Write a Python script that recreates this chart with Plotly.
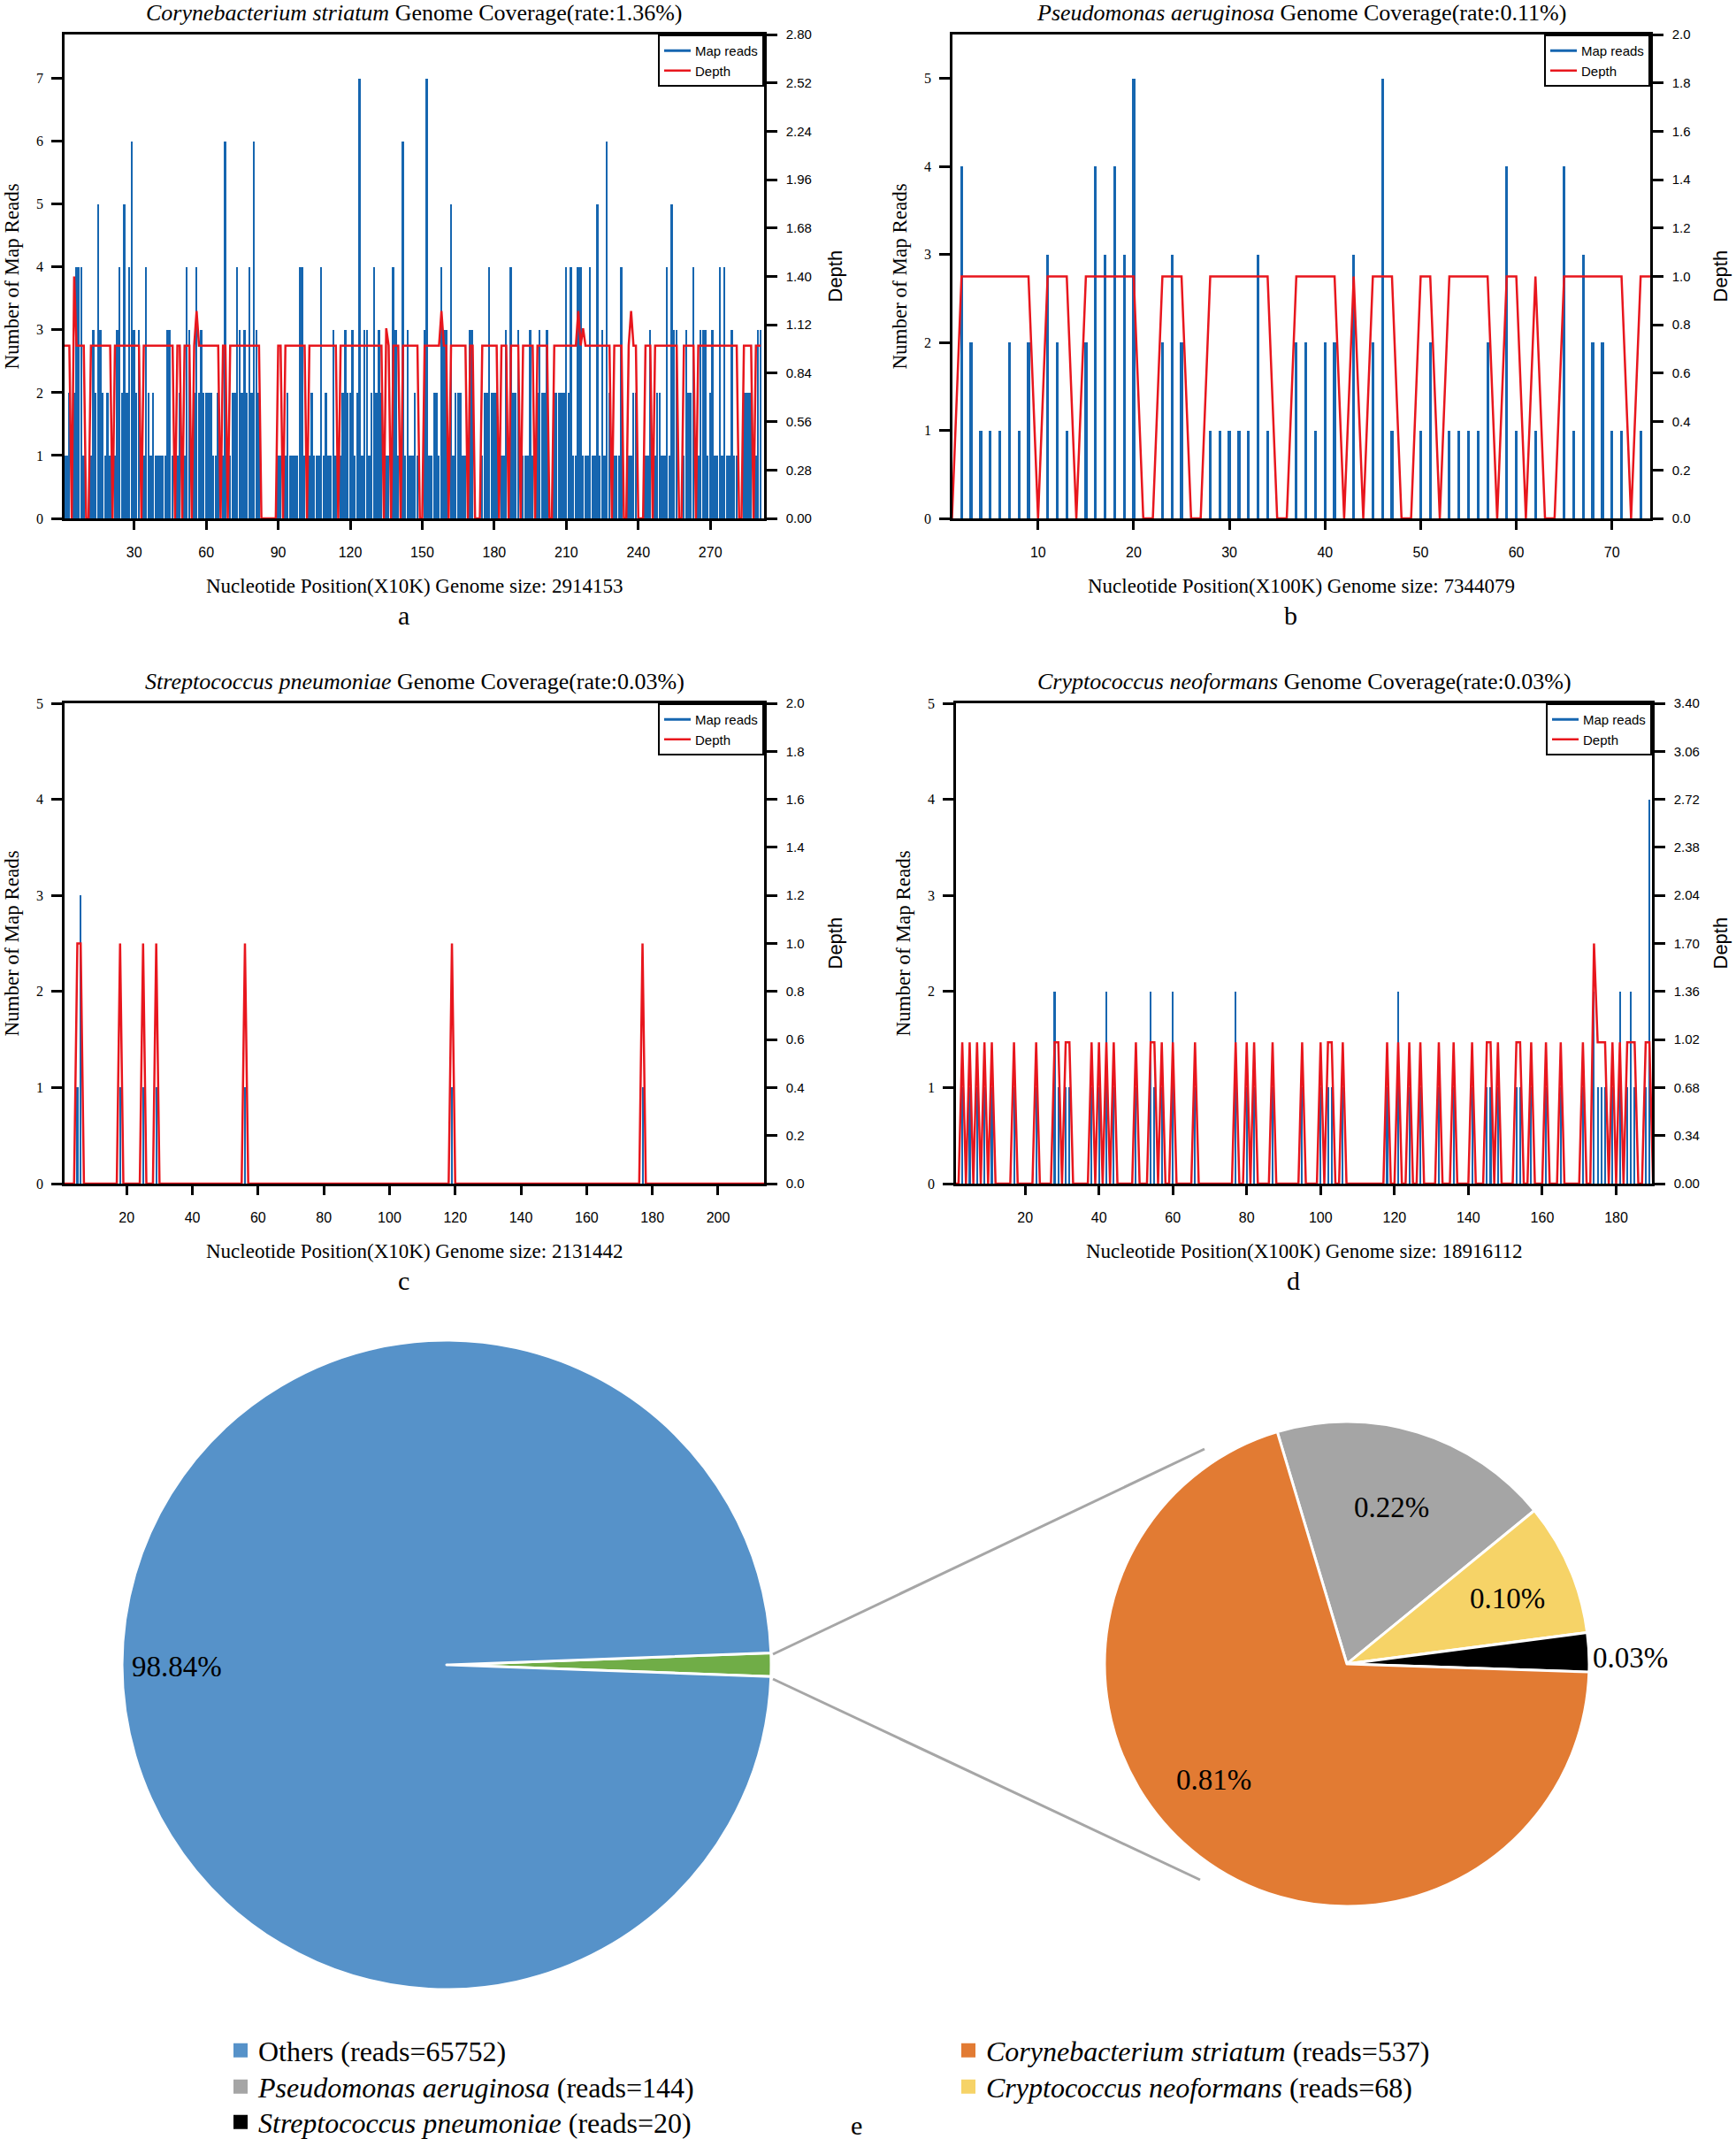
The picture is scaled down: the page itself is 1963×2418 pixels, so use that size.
import plotly.graph_objects as go

W, H = 1963, 2418
SERIF = "Liberation Serif"
SANS = "Liberation Sans"
READS_COLOR = "#1666b0"
DEPTH_COLOR = "#e8161d"

# ---- a: Corynebacterium striatum, map reads / depth per 10K bin (bins 1..291)
a_reads = [
    1, 1, 2, 0, 2, 4, 4, 4, 1, 0,
    0, 1, 3, 2, 5, 3, 2, 1, 2, 1,
    0, 1, 3, 4, 2, 5, 2, 4, 6, 3,
    2, 3, 0, 1, 4, 2, 1, 2, 1, 1,
    1, 1, 1, 3, 3, 1, 0, 1, 2, 0,
    1, 4, 3, 0, 2, 4, 2, 3, 2, 2,
    2, 2, 1, 1, 2, 0, 1, 6, 0, 1,
    2, 2, 4, 3, 2, 3, 2, 4, 2, 6,
    3, 2, 0, 0, 0, 0, 0, 0, 0, 1,
    1, 0, 1, 2, 1, 1, 1, 1, 4, 4,
    1, 0, 1, 2, 1, 1, 1, 4, 1, 2,
    1, 1, 3, 1, 0, 1, 2, 3, 2, 2,
    3, 1, 2, 7, 1, 3, 3, 1, 2, 4,
    2, 3, 2, 0, 1, 1, 0, 4, 3, 1,
    0, 6, 1, 3, 1, 1, 2, 1, 0, 0,
    3, 7, 1, 1, 2, 2, 1, 4, 3, 3,
    0, 5, 1, 2, 2, 2, 1, 1, 0, 3,
    3, 0, 0, 0, 1, 2, 2, 4, 2, 2,
    2, 0, 1, 1, 3, 0, 4, 2, 2, 3,
    0, 1, 1, 1, 3, 1, 0, 2, 3, 2,
    2, 3, 0, 0, 2, 2, 2, 2, 2, 4,
    2, 4, 1, 1, 4, 4, 1, 1, 1, 4,
    1, 1, 5, 1, 3, 1, 6, 2, 0, 1,
    1, 1, 4, 0, 0, 1, 1, 2, 2, 0,
    0, 0, 1, 1, 3, 0, 1, 2, 2, 1,
    1, 4, 1, 5, 3, 3, 0, 0, 1, 3,
    2, 2, 4, 0, 1, 3, 3, 3, 1, 2,
    3, 1, 1, 4, 1, 4, 1, 1, 3, 1,
    1, 0, 0, 2, 2, 2, 2, 0, 1, 3,
    3,
]
a_depth = [
    1, 1, 1, 0, 1.4, 1, 1, 1, 1, 0,
    0, 1, 1, 1, 1, 1, 1, 1, 1, 1,
    0, 1, 1, 1, 1, 1, 1, 1, 1, 1,
    1, 1, 0, 1, 1, 1, 1, 1, 1, 1,
    1, 1, 1, 1, 1, 1, 0, 1, 1, 0,
    1, 1, 1, 0, 1, 1.2, 1, 1, 1, 1,
    1, 1, 1, 1, 1, 0, 1, 1, 0, 1,
    1, 1, 1, 1, 1, 1, 1, 1, 1, 1,
    1, 1, 0, 0, 0, 0, 0, 0, 0, 1,
    1, 0, 1, 1, 1, 1, 1, 1, 1, 1,
    1, 0, 1, 1, 1, 1, 1, 1, 1, 1,
    1, 1, 1, 1, 0, 1, 1, 1, 1, 1,
    1, 1, 1, 1, 1, 1, 1, 1, 1, 1,
    1, 1, 1, 0, 1.1, 1, 0, 1, 1, 1,
    0, 1, 1, 1, 1, 1, 1, 1, 0, 0,
    1, 1, 1, 1, 1, 1, 1, 1.2, 1, 1,
    0, 1, 1, 1, 1, 1, 1, 1, 0, 1,
    1, 0, 0, 0, 1, 1, 1, 1, 1, 1,
    1, 0, 1, 1, 1, 0, 1, 1, 1, 1,
    0, 1, 1, 1, 1, 1, 0, 1, 1, 1,
    1, 1, 0, 0, 1, 1, 1, 1, 1, 1,
    1, 1, 1, 1, 1.2, 1, 1.1, 1, 1, 1,
    1, 1, 1, 1, 1, 1, 1, 1, 0, 1,
    1, 1, 1, 0, 0, 1, 1.2, 1, 1, 0,
    0, 0, 1, 1, 1, 0, 1, 1, 1, 1,
    1, 1, 1, 1, 1, 1, 0, 0, 1, 1,
    1, 1, 1, 0, 1, 1, 1, 1, 1, 1,
    1, 1, 1, 1, 1, 1, 1, 1, 1, 1,
    1, 0, 0, 1, 1, 1, 1, 0, 1, 1,
    1,
]

# ---- b: Pseudomonas aeruginosa, per 100K bin (bins 1..74)
b_reads = [
    0, 4, 2, 1, 1, 1, 2, 1, 2, 0,
    3, 2, 1, 0, 2, 4, 3, 4, 3, 5,
    0, 0, 2, 3, 2, 0, 0, 1, 1, 1,
    1, 1, 3, 1, 0, 0, 2, 2, 1, 2,
    2, 0, 3, 0, 2, 5, 1, 0, 0, 1,
    2, 0, 1, 1, 1, 1, 2, 0, 4, 1,
    0, 1, 0, 0, 4, 1, 3, 2, 2, 1,
    1, 0, 1, 0,
]
b_depth = [
    0, 1, 1, 1, 1, 1, 1, 1, 1, 0,
    1, 1, 1, 0, 1, 1, 1, 1, 1, 1,
    0, 0, 1, 1, 1, 0, 0, 1, 1, 1,
    1, 1, 1, 1, 0, 0, 1, 1, 1, 1,
    1, 0, 1, 0, 1, 1, 1, 0, 0, 1,
    1, 0, 1, 1, 1, 1, 1, 0, 1, 1,
    0, 1, 0, 0, 1, 1, 1, 1, 1, 1,
    1, 0, 1, 1,
]

# ---- c: Streptococcus pneumoniae, per 10K bin (214 bins), covered bins only
c_nbins = 214
c_bins = [5, 6, 18, 25, 29, 56, 119, 177]
c_reads = [1, 3, 1, 1, 1, 1, 1, 1]
c_depth = [1, 1, 1, 1, 1, 1, 1, 1]

# ---- d: Cryptococcus neoformans, per 100K bin (190 bins), covered bins only
d_nbins = 190
d_bins = [3, 5, 7, 9, 11, 17, 23, 28, 29, 31, 32, 38, 40, 42, 44, 50, 54, 55,
          57, 60, 66, 77, 80, 82, 87, 95, 100, 102, 103, 106, 118, 121, 124,
          127, 132, 136, 141, 145, 146, 148, 153, 154, 157, 161, 165, 171,
          174, 175, 176, 177, 179, 181, 183, 184, 185, 188, 189]
d_reads = [1, 1, 1, 1, 1, 1, 1, 2, 1, 1, 1, 1, 1, 2, 1, 1, 2, 1,
           1, 2, 1, 2, 1, 1, 1, 1, 1, 1, 1, 1, 1, 2, 1,
           1, 1, 1, 1, 1, 1, 1, 1, 1, 1, 1, 1, 1,
           2, 1, 1, 1, 1, 2, 1, 2, 1, 1, 4]
d_depth = [1, 1, 1, 1, 1, 1, 1, 1, 1, 1, 1, 1, 1, 1, 1, 1, 1, 1,
           1, 1, 1, 1, 1, 1, 1, 1, 1, 1, 1, 1, 1, 1, 1,
           1, 1, 1, 1, 1, 1, 1, 1, 1, 1, 1, 1, 1,
           1.7, 1, 1, 1, 1, 1, 1, 1, 1, 1, 1]

# tick labels
a_xticks = [30, 60, 90, 120, 150, 180, 210, 240, 270]
b_xticks = [10, 20, 30, 40, 50, 60, 70]
c_xticks = [20, 40, 60, 80, 100, 120, 140, 160, 180, 200]
d_xticks = [20, 40, 60, 80, 100, 120, 140, 160, 180]
a_yticks = [0, 1, 2, 3, 4, 5, 6, 7]
bcd_yticks = [0, 1, 2, 3, 4, 5]
a_dticks = ["0.00", "0.28", "0.56", "0.84", "1.12", "1.40", "1.68", "1.96", "2.24", "2.52", "2.80"]
bc_dticks = ["0.0", "0.2", "0.4", "0.6", "0.8", "1.0", "1.2", "1.4", "1.6", "1.8", "2.0"]
d_dticks = ["0.00", "0.34", "0.68", "1.02", "1.36", "1.70", "2.04", "2.38", "2.72", "3.06", "3.40"]

titles = [
    "<i>Corynebacterium striatum</i> Genome Coverage(rate:1.36%)",
    "<i>Pseudomonas aeruginosa</i> Genome Coverage(rate:0.11%)",
    "<i>Streptococcus pneumoniae</i> Genome Coverage(rate:0.03%)",
    "<i>Cryptococcus neoformans</i> Genome Coverage(rate:0.03%)",
]
xtitles = [
    "Nucleotide Position(X10K) Genome size: 2914153",
    "Nucleotide Position(X100K) Genome size: 7344079",
    "Nucleotide Position(X10K) Genome size: 2131442",
    "Nucleotide Position(X100K) Genome size: 18916112",
]
letters = ["a", "b", "c", "d"]

# ---- e: read counts
others_reads = 65752
pie_species = ["Pseudomonas aeruginosa", "Cryptococcus neoformans",
               "Streptococcus pneumoniae", "Corynebacterium striatum"]
pie_reads = [144, 68, 20, 537]
pie_colors = ["#a5a5a5", "#f6d367", "#000000", "#e27b33"]
OTHERS_COLOR = "#5692c9"
SPECIES_COLOR = "#70ad47"


def px(x):
    return x / W


def py(y):
    return 1 - y / H


def expand(nbins, bins, vals):
    out = [0] * nbins
    for b, v in zip(bins, vals):
        out[b - 1] = v
    return out


panels = [
    dict(reads=a_reads, depth=a_depth, width=0.72, xdom=(73, 864), ydom=(39, 586),
         xrange=(1, 292.4), xticks=a_xticks, yrange=(0, 7.7), yticks=a_yticks,
         drange=(0, 2.8), dticks=a_dticks, depth_x=944),
    dict(reads=b_reads, depth=b_depth, width=0.3, xdom=(1077, 1866), ydom=(39, 586),
         xrange=(1.05, 74), xticks=b_xticks, yrange=(0, 5.5), yticks=bcd_yticks,
         drange=(0, 2.0), dticks=bc_dticks, depth_x=1945),
    dict(reads=expand(c_nbins, c_bins, c_reads), depth=expand(c_nbins, c_bins, c_depth),
         width=0.55, xdom=(73, 864), ydom=(795, 1338), xrange=(1.1, 214),
         xticks=c_xticks, yrange=(0, 5), yticks=bcd_yticks, drange=(0, 2.0),
         dticks=bc_dticks, depth_x=944),
    dict(reads=expand(d_nbins, d_bins, d_reads), depth=expand(d_nbins, d_bins, d_depth),
         width=0.5, xdom=(1081, 1868), ydom=(795, 1338), xrange=(1.3, 189.7),
         xticks=d_xticks, yrange=(0, 5), yticks=bcd_yticks, drange=(0, 3.4),
         dticks=d_dticks, depth_x=1945),
]

axis_style = dict(showline=True, linecolor="black", linewidth=2.5, ticks="outside",
                  tickcolor="black", tickwidth=2.5, showgrid=False, zeroline=False,
                  automargin=False)

traces = []
axes = {}
legends = {}
annotations = []


def text(x, y, s, size, family=SERIF, angle=0):
    annotations.append(dict(x=px(x), y=py(y), xref="paper", yref="paper", text=s,
                            showarrow=False, textangle=angle, xanchor="center",
                            yanchor="middle",
                            font=dict(family=family, size=size, color="black")))


for i, p in enumerate(panels, start=1):
    sfx = "" if i == 1 else str(i)
    xref, yref, yref2 = "x" + sfx, "y" + sfx, f"y{i + 4}"
    leg = "legend" + sfx
    bins = list(range(1, len(p["reads"]) + 1))
    x0, x1 = p["xdom"]
    y0, y1 = p["ydom"]

    traces.append(go.Bar(x=bins, y=p["reads"], width=p["width"], xaxis=xref, yaxis=yref,
                         marker=dict(color=READS_COLOR, line_width=0), showlegend=False))
    traces.append(go.Scatter(x=[None], y=[None], mode="lines", name="Map reads",
                             line=dict(color=READS_COLOR, width=3), xaxis=xref,
                             yaxis=yref, legend=leg))
    traces.append(go.Scatter(x=bins, y=p["depth"], mode="lines", name="Depth",
                             line=dict(color=DEPTH_COLOR, width=2.5), xaxis=xref,
                             yaxis=yref2, legend=leg))

    axes["xaxis" + sfx] = dict(axis_style, domain=[px(x0), px(x1)], anchor=yref,
                               range=list(p["xrange"]), tickvals=p["xticks"], ticklen=10,
                               mirror=True, ticklabelstandoff=12,
                               tickfont=dict(family=SANS, size=16, color="black"))
    axes["yaxis" + sfx] = dict(axis_style, domain=[py(y1), py(y0)], anchor=xref,
                               range=list(p["yrange"]), tickvals=p["yticks"], ticklen=12,
                               ticklabelstandoff=6,
                               tickfont=dict(family=SERIF, size=16, color="black"))
    axes[f"yaxis{i + 4}"] = dict(axis_style, overlaying=yref, side="right", anchor=xref,
                                 range=list(p["drange"]),
                                 tickvals=[float(t) for t in p["dticks"]],
                                 ticktext=p["dticks"], ticklen=12, ticklabelstandoff=7,
                                 tickfont=dict(family=SANS, size=15, color="black"))
    legends[leg] = dict(x=px(x1), y=py(y0), xanchor="right", yanchor="top",
                        bordercolor="black", borderwidth=2, bgcolor="white",
                        font=dict(family=SANS, size=15, color="black"))

    cx, cy = (x0 + x1) / 2, (y0 + y1) / 2
    text(cx, y0 - 25, titles[i - 1], 26)
    text(cx, y1 + 76, xtitles[i - 1], 23)
    text(cx - 12, y1 + 109, letters[i - 1], 30)
    text(x0 - 60, cy, "Number of Map Reads", 23, angle=-90)
    text(p["depth_x"], cy, "Depth", 22, family=SANS, angle=-90)

# ---- pies
species_total = sum(pie_reads)
grand_total = others_reads + species_total

traces.append(go.Pie(values=[species_total, others_reads], labels=["Species", "Others"],
                     sort=False, direction="clockwise", rotation=87.9,
                     marker=dict(colors=[SPECIES_COLOR, OTHERS_COLOR],
                                 line=dict(color="white", width=3)),
                     textinfo="none", showlegend=False,
                     domain=dict(x=[px(505 - 367), px(505 + 367)],
                                 y=[py(1882 + 367), py(1882 - 367)])))
traces.append(go.Pie(values=pie_reads, labels=pie_species, sort=False,
                     direction="clockwise", rotation=-16.7,
                     marker=dict(colors=pie_colors, line=dict(color="white", width=3)),
                     textinfo="none", showlegend=False,
                     domain=dict(x=[px(1523 - 274), px(1523 + 274)],
                                 y=[py(1881 + 274), py(1881 - 274)])))

pct = lambda v: f"{100 * v / grand_total:.2f}%"
text(200, 1884, pct(others_reads), 33)
text(1573, 1704, pct(pie_reads[0]), 33)
text(1704, 1807, pct(pie_reads[1]), 33)
text(1843, 1874, pct(pie_reads[2]), 33)
text(1372, 2012, pct(pie_reads[3]), 33)
text(968, 2402, "e", 30)

shapes = [
    dict(type="line", xref="paper", yref="paper", x0=px(874), y0=py(1870),
         x1=px(1362), y1=py(1638), line=dict(color="#a6a6a6", width=3)),
    dict(type="line", xref="paper", yref="paper", x0=px(874), y0=py(1898),
         x1=px(1357), y1=py(2125), line=dict(color="#a6a6a6", width=3)),
]

# ---- bottom legend: one single-entry legend per row, two columns
legend_rows = [
    ("Others", others_reads, OTHERS_COLOR, False, 252, 2318),
    (pie_species[0], pie_reads[0], pie_colors[0], True, 252, 2359),
    (pie_species[2], pie_reads[2], pie_colors[2], True, 252, 2399),
    (pie_species[3], pie_reads[3], pie_colors[3], True, 1075, 2318),
    (pie_species[1], pie_reads[1], pie_colors[1], True, 1075, 2359),
]
for k, (name, n, color, italic, lx, ly) in enumerate(legend_rows, start=5):
    label = f"<i>{name}</i> (reads={n})" if italic else f"{name} (reads={n})"
    traces.append(go.Scatter(x=[None], y=[None], mode="markers", name=label,
                             marker=dict(symbol="square", size=18, color=color),
                             legend=f"legend{k}"))
    legends[f"legend{k}"] = dict(x=px(lx), y=py(ly), xanchor="left", yanchor="middle",
                                 bgcolor="rgba(0,0,0,0)", borderwidth=0,
                                 font=dict(family=SERIF, size=32, color="black"))

fig = go.Figure(data=traces)
fig.update_layout(width=W, height=H,
                  margin=dict(l=0, r=0, t=0, b=0, pad=0, autoexpand=False),
                  paper_bgcolor="white", plot_bgcolor="white", bargap=0,
                  annotations=annotations, shapes=shapes, **axes, **legends)
fig.write_html("out.html", config={"displayModeBar": False},
               post_script="document.body.style.margin = '0';")
